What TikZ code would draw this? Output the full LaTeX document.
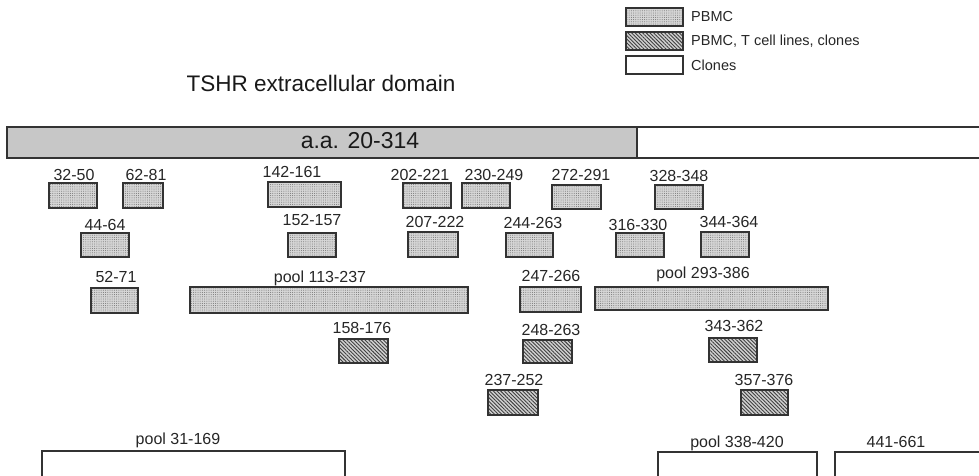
\documentclass[tikz,border=0pt]{standalone}
\usepackage{fontspec}
\setmainfont{Liberation Sans}
\usetikzlibrary{patterns.meta}
\tikzset{
  x=1pt, y=-1pt,
  edge/.style={draw=black!80, line width=1.2pt},
  pb/.style={edge, preaction={fill=black!16}, pattern={Dots[distance=2.2pt, radius=0.5pt]}, pattern color=black!55},
  hb/.style={edge, preaction={fill=black!18}, pattern={Lines[angle=-45, distance=2.6pt, line width=0.9pt]}, pattern color=black!75},
  cb/.style={edge, fill=white},
  lab/.style={inner sep=0pt, text height=11.5pt, text depth=0pt, font=\fontsize{16}{18}\selectfont, text=black!85},
  leg/.style={inner sep=0pt, anchor=west, font=\fontsize{14.5}{16}\selectfont, text=black!85},
}
\newcommand{\bx}[9]{%
  \draw[#6] (#2,#3) rectangle (#4,#5);
  \node[lab] (#1) at (#8,#9) {#7};}
\begin{document}
\begin{tikzpicture}
\useasboundingbox (0,0) rectangle (979,475);
\clip (0,0) rectangle (979,475);
% legend
\draw[pb] (626,8) rectangle (683,26);
\node[leg] (lg1) at (691,17) {PBMC};
\draw[hb] (626,32) rectangle (683,50);
\node[leg] (lg2) at (691,41) {PBMC, T cell lines, clones};
\draw[cb] (626,56) rectangle (683,74);
\node[leg] (lg3) at (691,65) {Clones};
% title
\node[inner sep=0pt, font=\fontsize{22.5}{26}\selectfont, text=black!90] (title) at (321,83) {TSHR extracellular domain};
% main bar
\fill[black!22] (7,127) rectangle (637,158);
\draw[edge, line width=1.4pt] (995,127) -- (7,127) -- (7,158) -- (995,158);
\draw[edge, line width=1.4pt] (637,127) -- (637,158);
\node[inner sep=0pt, font=\fontsize{23}{26}\selectfont, text=black!90] (aa) at (360,141) {a.a. 20-314};
% row 1
\bx{r32}{49}{183}{97}{208}{pb}{32-50}{74}{175}
\bx{r62}{123}{183}{163}{208}{pb}{62-81}{146}{175}
\bx{r142}{268}{182}{341}{207}{pb}{142-161}{292}{172}
\bx{r202}{403}{183}{451}{208}{pb}{202-221}{420}{175}
\bx{r230}{462}{183}{510}{208}{pb}{230-249}{494}{175}
\bx{r272}{552}{185}{601}{209}{pb}{272-291}{581}{175}
\bx{r328}{655}{185}{703}{209}{pb}{328-348}{679}{176}
% row 2
\bx{r44}{81}{233}{129}{257}{pb}{44-64}{105}{225}
\bx{r152}{288}{233}{336}{257}{pb}{152-157}{312}{220}
\bx{r207}{408}{232}{458}{257}{pb}{207-222}{435}{222}
\bx{r244}{506}{233}{553}{257}{pb}{244-263}{533}{223}
\bx{r316}{616}{233}{664}{257}{pb}{316-330}{638}{225}
\bx{r344}{701}{232}{749}{257}{pb}{344-364}{729}{222}
% row 3
\bx{r52}{91}{288}{138}{313}{pb}{52-71}{116}{277}
\bx{p113}{190}{287}{468}{313}{pb}{pool 113-237}{320}{277}
\bx{r247}{520}{287}{581}{312}{pb}{247-266}{551}{276}
\bx{p293}{595}{287}{828}{310}{pb}{pool 293-386}{703}{273}
% row 4
\bx{r158}{339}{339}{388}{363}{hb}{158-176}{362}{328}
\bx{r248}{523}{340}{572}{363}{hb}{248-263}{551}{330}
\bx{r343}{709}{338}{757}{362}{hb}{343-362}{734}{326}
% row 5
\bx{r237}{488}{390}{538}{415}{hb}{237-252}{514}{380}
\bx{r357}{741}{390}{788}{415}{hb}{357-376}{764}{380}
% bottom
\bx{p31}{42}{451}{345}{500}{cb}{pool 31-169}{178}{439}
\bx{p338}{658}{452}{817}{500}{cb}{pool 338-420}{737}{442}
\bx{r441}{835}{452}{995}{500}{cb}{441-661}{896}{442}
\end{tikzpicture}
\end{document}
